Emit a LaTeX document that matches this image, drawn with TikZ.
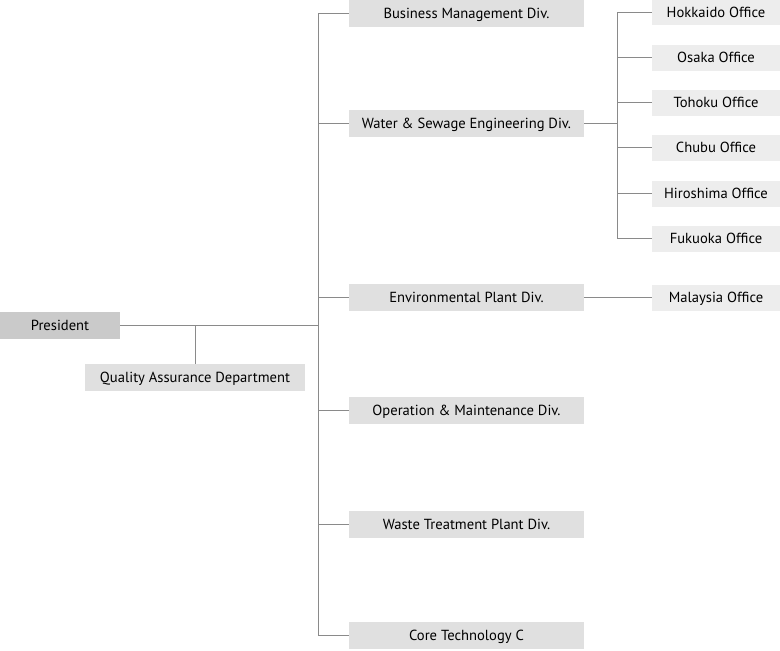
\documentclass[tikz,border=0pt]{standalone}
\usepackage{fontspec}
\setmainfont{PT Sans}
\definecolor{presfill}{HTML}{CACACA}
\definecolor{divfill}{HTML}{E0E0E0}
\definecolor{offfill}{HTML}{EDEDED}
\definecolor{linec}{HTML}{8A8A8A}
\begin{document}
\begin{tikzpicture}[x=1pt,y=-1pt,
  box/.style={inner sep=0pt,minimum height=27pt,font=\fontsize{14.6}{16}\selectfont,text=black,text height=12pt,text depth=1.5pt},
  presbox/.style={box,fill=presfill,minimum width=120pt},
  qabox/.style={box,fill=divfill,minimum width=220pt},
  divbox/.style={box,fill=divfill,minimum width=235pt},
  offbox/.style={box,fill=offfill,minimum width=128pt,minimum height=26pt},
  conn/.style={draw=linec,line width=1pt}]
\useasboundingbox (0,0) rectangle (780,651);
\node[presbox] (pres) at (60,325.5) {President};
\node[qabox] (qa) at (195,377.5) {Quality Assurance Department};
\node[divbox] (bm) at (466.5,13.5) {Business Management Div.};
\node[divbox] (ws) at (466.5,123.5) {Water \& Sewage Engineering Div.};
\node[divbox] (ep) at (466.5,297.5) {Environmental Plant Div.};
\node[divbox] (om) at (466.5,410.5) {Operation \& Maintenance Div.};
\node[divbox] (wt) at (466.5,524.5) {Waste Treatment Plant Div.};
\node[divbox] (ct) at (466.5,635.5) {Core Technology C};
\node[offbox] (hk) at (716,12) {Hokkaido Office};
\node[offbox] (os) at (716,57.5) {Osaka Office};
\node[offbox] (th) at (716,102.5) {Tohoku Office};
\node[offbox] (cb) at (716,147.5) {Chubu Office};
\node[offbox] (hs) at (716,193.5) {Hiroshima Office};
\node[offbox] (fk) at (716,238.5) {Fukuoka Office};
\node[offbox] (ml) at (716,297.5) {Malaysia Office};
\coordinate (tr) at (318.5,325.5);
\coordinate (br) at (617.5,123.5);
\draw[conn] (pres.east) -- (tr);
\draw[conn] (qa.north) -- (qa.north |- pres.east);
\draw[conn] (bm.west) -| (tr) |- (ct.west);
\draw[conn] (ws.west) -- (ws.west -| tr);
\draw[conn] (ep.west) -- (ep.west -| tr);
\draw[conn] (om.west) -- (om.west -| tr);
\draw[conn] (wt.west) -- (wt.west -| tr);
\draw[conn] (ws.east) -- (br);
\draw[conn] (hk.west) -| (br) |- (fk.west);
\draw[conn] (os.west) -- (os.west -| br);
\draw[conn] (th.west) -- (th.west -| br);
\draw[conn] (cb.west) -- (cb.west -| br);
\draw[conn] (hs.west) -- (hs.west -| br);
\draw[conn] (ep.east) -- (ml.west);
\end{tikzpicture}
\end{document}
